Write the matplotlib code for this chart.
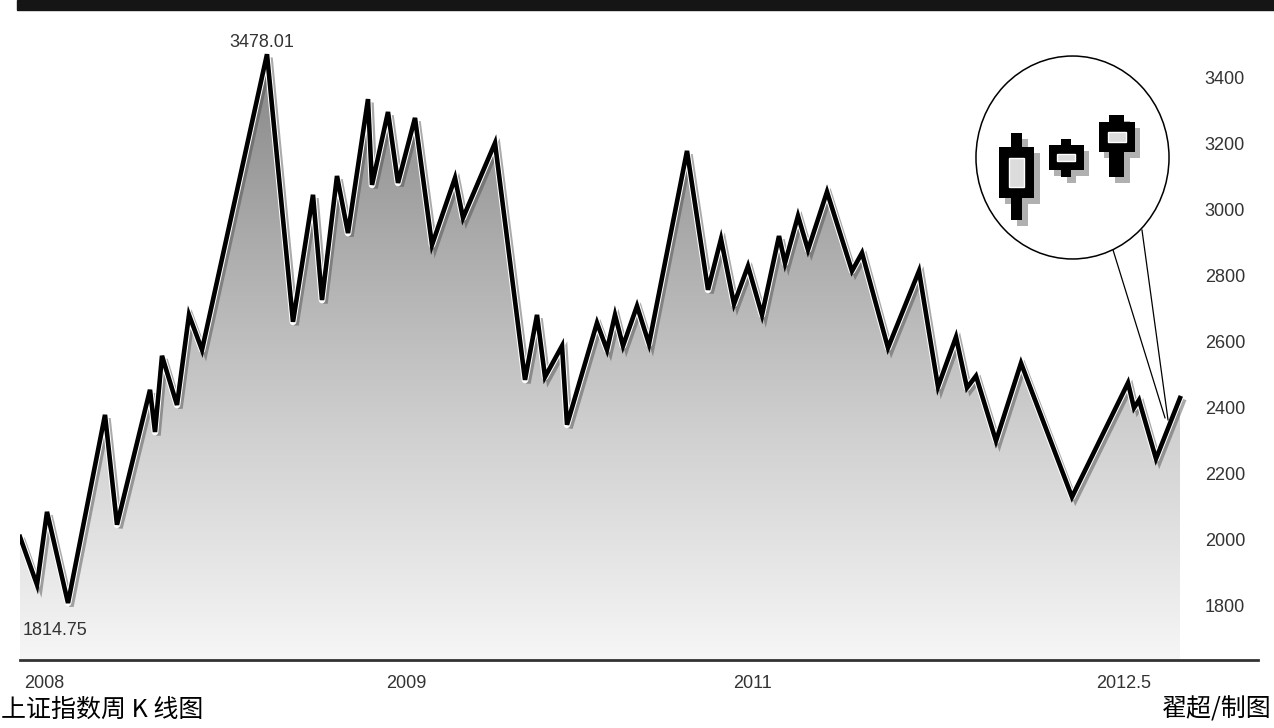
import numpy as np
import matplotlib
matplotlib.use("Agg")
import matplotlib.pyplot as plt
import matplotlib.patheffects as pe
from matplotlib.colors import LinearSegmentedColormap
from matplotlib.patches import Rectangle, Circle

plt.rcParams['font.family'] = ['Liberation Sans', 'Noto Sans CJK SC', 'DejaVu Sans']

# weekly closing points of the Shanghai index (turning points), x is a time position
x_pos = [20, 37, 47, 68, 105, 117, 150, 155, 162, 177, 189, 202, 267, 293, 313, 322,
         337, 348, 368, 372, 388, 398, 415, 432, 455, 463, 495, 525, 537, 545, 562, 567,
         597, 607, 615, 623, 637, 649, 687, 708, 721, 734, 748, 762, 779, 785, 798, 808,
         827, 852, 862, 888, 919, 938, 956, 967, 976, 996, 1021, 1072, 1128, 1134, 1139,
         1156, 1180]
index_vals = [2015, 1870, 2091, 1814.75, 2385, 2052, 2461, 2333, 2564, 2415, 2688, 2582,
              3478.01, 2667, 3052, 2733, 3109, 2936, 3342, 3082, 3303, 3088, 3285, 2900,
              3103, 2982, 3209, 2491, 2688, 2500, 2594, 2355, 2664, 2582, 2688, 2594, 2715,
              2600, 3185, 2764, 2918, 2721, 2836, 2688, 2927, 2845, 2988, 2885, 3061, 2821,
              2876, 2588, 2821, 2470, 2621, 2467, 2503, 2306, 2542, 2136, 2482, 2406, 2430,
              2252, 2436]

yticks = [1800, 2000, 2200, 2400, 2600, 2800, 3000, 3200, 3400]
xtick_pos = [44, 406, 753, 1124]
xtick_labels = ['2008', '2009', '2011', '2012.5']

# candles in the magnifier (inset units)
candle_x = [0.215, 0.467, 0.728]
wick_low = [0.195, 0.405, 0.405]
wick_high = [0.62, 0.59, 0.707]
body_low = [0.302, 0.439, 0.527]
body_high = [0.551, 0.561, 0.673]

fig = plt.figure(figsize=(12.74, 7.28), dpi=100)
W, H = 1274, 728

ax = fig.add_axes([20 / W, 68 / H, 1238 / W, 648 / H])
ymin, ymax = 1642, 3606
ax.set_xlim(20, 1258)
ax.set_ylim(ymin, ymax)

# gradient fill under the line
cmap = LinearSegmentedColormap.from_list('g', ['#f6f6f6', '#d2d2d2', '#a9a9a9', '#7e7e7e'])
grad = np.linspace(0, 1, 256).reshape(-1, 1)
im = ax.imshow(grad, extent=[20, 1258, ymin, ymax], origin='lower', aspect='auto',
               cmap=cmap, zorder=1)
poly = ax.fill_between(x_pos, index_vals, ymin, facecolor='none', edgecolor='none')
im.set_clip_path(poly.get_paths()[0], transform=ax.transData)

ax.plot(x_pos, index_vals, color='black', lw=3.3, zorder=3, solid_joinstyle='miter',
        path_effects=[pe.SimpleLineShadow(offset=(2.5, -2.5), shadow_color='#444444', alpha=0.45),
                      pe.Stroke(linewidth=4.8, foreground='white', joinstyle='round'),
                      pe.Normal()])

# max / min labels
imax = int(np.argmax(index_vals))
imin = int(np.argmin(index_vals))
ax.annotate(f'{index_vals[imax]:.2f}', (x_pos[imax], index_vals[imax]), xytext=(-4, 2),
            textcoords='offset points', ha='center', va='bottom', fontsize=13, color='#333333')
ax.annotate(f'{index_vals[imin]:.2f}', (x_pos[imin], index_vals[imin]), xytext=(-9, -14),
            textcoords='offset points', ha='center', va='top', fontsize=13, color='#333333')

# y labels inside on the right
for v in yticks:
    ax.text(0.9895, v, str(v), transform=ax.get_yaxis_transform(), ha='right', va='center',
            fontsize=13, color='#333333')
ax.set_yticks([])

ax.set_xticks(xtick_pos, xtick_labels)
ax.tick_params(axis='x', length=0, pad=11, labelsize=13, labelcolor='#333333')
for s in ['top', 'left', 'right']:
    ax.spines[s].set_visible(False)
ax.spines['bottom'].set_color('#333333')
ax.spines['bottom'].set_linewidth(2)

# pointer lines from magnifier to the last weeks
ax.plot([1113, 1165], [2885, 2376], color='black', lw=0.9, zorder=4)
ax.plot([1142, 1168], [2945, 2370], color='black', lw=0.9, zorder=4)

# magnifier with candles
axi = fig.add_axes([975 / W, (H - 260) / H, 195 / W, 205 / H])
axi.set_xlim(0, 1)
axi.set_ylim(0, 1)
axi.axis('off')
axi.add_patch(Circle((0.5, 0.5), 0.495, facecolor='white', edgecolor='black', lw=1.1))
wick_w = [0.056, 0.051, 0.077]
body_w = [0.18, 0.18, 0.185]
inner_w = [0.077, 0.092, 0.097]
inner_h = [0.57, 0.28, 0.33]
for i, cx in enumerate(candle_x):
    for dx, dy, col, zo in [(0.028, -0.028, '#b0b0b0', 2), (0, 0, 'black', 3)]:
        axi.add_patch(Rectangle((cx - wick_w[i] / 2 + dx, wick_low[i] + dy), wick_w[i],
                                wick_high[i] - wick_low[i], color=col, lw=0, zorder=zo))
        axi.add_patch(Rectangle((cx - body_w[i] / 2 + dx, body_low[i] + dy), body_w[i],
                                body_high[i] - body_low[i], color=col, lw=0, zorder=zo))
    ih = (body_high[i] - body_low[i]) * inner_h[i]
    mid = (body_high[i] + body_low[i]) / 2
    axi.add_patch(Rectangle((cx - inner_w[i] / 2, mid - ih / 2), inner_w[i], ih,
                            facecolor='#dcdcdc', edgecolor='white', lw=1.0, zorder=4))

# black rule at top
fig.add_artist(Rectangle((17 / W, (H - 10) / H), (W - 17) / W, 10 / H,
                         transform=fig.transFigure, color='#151515'))

fig.text(1 / W, 0.025, '上证指数周 K 线图', fontsize=18, ha='left', va='center',
         family=['Noto Sans CJK SC', 'DejaVu Sans'], color='black', weight='medium')
fig.text(1272 / W, 0.025, '翟超/制图', fontsize=18, ha='right', va='center',
         family=['Noto Sans CJK SC', 'DejaVu Sans'], color='black', weight='medium')

fig.savefig('out.png', dpi=100, facecolor='white')
